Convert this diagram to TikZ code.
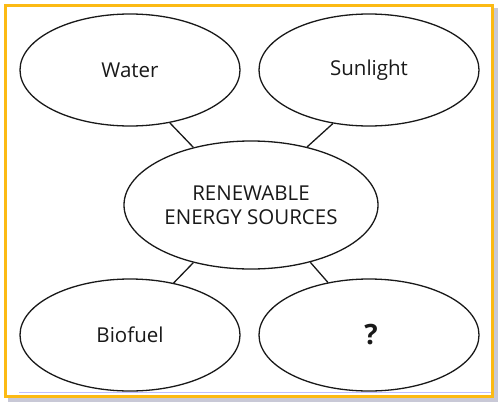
\documentclass[tikz,border=0pt]{standalone}
\usepackage{fontspec}
\setmainfont{Open Sans}
\usetikzlibrary{positioning,shapes.geometric}
\definecolor{framegold}{RGB}{252,186,20}
\definecolor{frameshade}{RGB}{200,200,214}
\definecolor{inkgray}{RGB}{25,25,25}
\begin{document}
\begin{tikzpicture}[x=1pt,y=-1pt,auto,on grid,
    main/.style = {draw=inkgray, ellipse, line width=1.3pt, minimum width=220pt, minimum height=112pt,
                   inner sep=0pt, text=inkgray, align=center, font=\fontsize{20.5}{24}\selectfont}]
    \useasboundingbox (0,0) rectangle (503,407);
    % frame with its shadow
    \fill[frameshade] (8,8) rectangle (498,402);
    \draw[framegold, line width=3pt, fill=white] (5,5) rectangle (492,396);
    \draw[blue!25, line width=1pt] (19,392.5) -- (490.5,392.5);
    \node[main, minimum width=254pt, minimum height=128pt] (res) at (251,205) {RENEWABLE\\ENERGY SOURCES};
    \node[main] (water) [above left=135pt and 121pt of res] {Water};
    \node[main] (sun) [above right=135pt and 118pt of res] {Sunlight};
    \node[main] (bio) [below left=130pt and 121pt of res] {Biofuel};
    \node[main, font=\fontsize{28}{30}\selectfont\bfseries] (unk) [below right=130pt and 118pt of res] {\hspace{4pt}?};
    % spokes
    \path[draw=inkgray, line width=1.3pt]
        (water.-53) edge (res.135)
        (sun.-124) edge (res.46)
        (bio.50) edge (res.-135)
        (unk.128) edge (res.-44);
\end{tikzpicture}
\end{document}
